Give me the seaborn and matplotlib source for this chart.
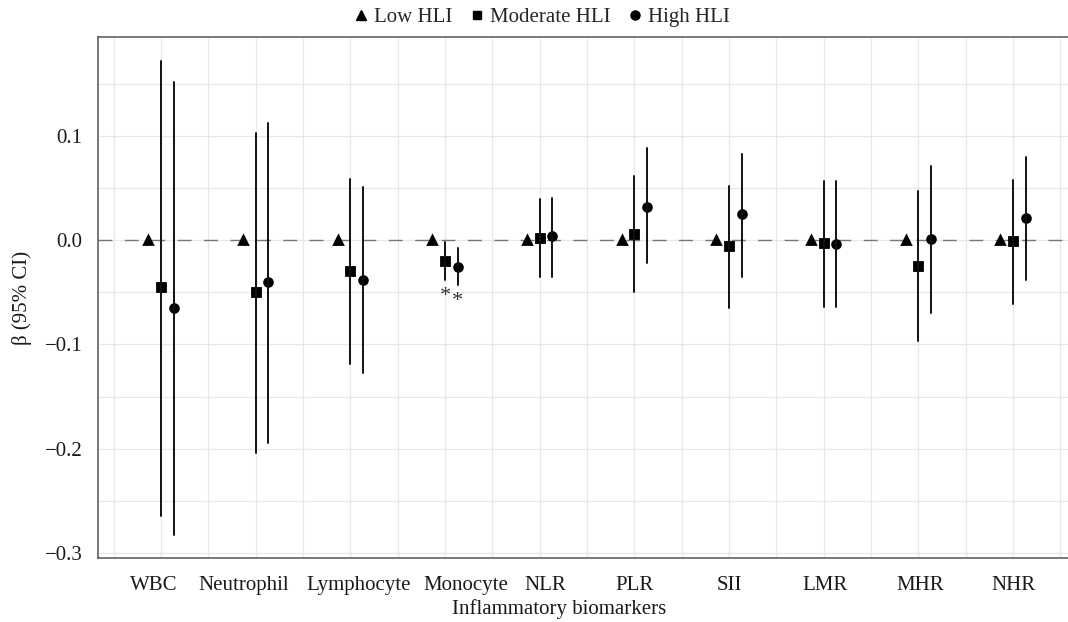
import numpy as np
import pandas as pd
import seaborn as sns
import matplotlib
matplotlib.use("Agg")
import matplotlib.pyplot as plt
from matplotlib.lines import Line2D
from matplotlib.transforms import ScaledTranslation

biomarkers = ["WBC", "Neutrophil", "Lymphocyte", "Monocyte", "NLR",
              "PLR", "SII", "LMR", "MHR", "NHR"]
groups = ["Low HLI", "Moderate HLI", "High HLI"]

# Low HLI is the reference group (beta = 0, no interval)
low_est = [0.0] * 10

mod_est = [-0.045, -0.050, -0.030, -0.020, 0.002, 0.006, -0.006, -0.003, -0.025, -0.001]
mod_lo = [-0.264, -0.204, -0.119, -0.038, -0.035, -0.050, -0.065, -0.064, -0.097, -0.061]
mod_hi = [0.172, 0.103, 0.059, -0.002, 0.039, 0.061, 0.052, 0.057, 0.047, 0.058]

high_est = [-0.065, -0.040, -0.038, -0.026, 0.004, 0.032, 0.025, -0.004, 0.001, 0.021]
high_lo = [-0.283, -0.194, -0.127, -0.043, -0.035, -0.022, -0.035, -0.064, -0.070, -0.038]
high_hi = [0.152, 0.112, 0.051, -0.008, 0.040, 0.088, 0.083, 0.057, 0.071, 0.080]

# significant estimates: (biomarker, group)
signif = [("Monocyte", "Moderate HLI"), ("Monocyte", "High HLI")]

rows = []
for i, b in enumerate(biomarkers):
    for v in (low_est[i], low_est[i], low_est[i]):
        rows.append((b, "Low HLI", v))
    for v in (mod_lo[i], mod_est[i], mod_hi[i]):
        rows.append((b, "Moderate HLI", v))
    for v in (high_lo[i], high_est[i], high_hi[i]):
        rows.append((b, "High HLI", v))
df = pd.DataFrame(rows, columns=["biomarker", "group", "beta"])

sns.set_style("white")
plt.rcParams["font.family"] = ["Liberation Serif", "DejaVu Serif"]

fig = plt.figure(figsize=(10.68, 6.22), dpi=100)
ax = fig.add_axes([98 / 1068, 63.7 / 622, (1076 - 98) / 1068, (558.3 - 36.7) / 622])

dodge = 0.265
sns.pointplot(data=df, x="biomarker", y="beta", hue="group",
              order=biomarkers, hue_order=groups,
              estimator="median", errorbar=lambda x: (x.min(), x.max()),
              dodge=dodge, markers=["^", "s", "o"], linestyle="none",
              palette=["black"] * 3, markersize=5.6,
              err_kws={"linewidth": 1.4, "color": "#111111"},
              legend=False, ax=ax, zorder=3)

ax.axhline(0, color="#777777", lw=1.0, dashes=(10, 9), zorder=1)

offsets = dict(zip(groups, np.linspace(-dodge / 2, dodge / 2, 3)))
for b, g in signif:
    i = biomarkers.index(b)
    lo = mod_lo[i] if g == "Moderate HLI" else high_lo[i]
    ax.text(i + offsets[g], lo - 0.007, "*", ha="center", va="top",
            fontsize=16, color="#333333")

ax.set_xlim(-0.666, 9.666)
ax.set_ylim(-0.305, 0.195)
ax.set_yticks([-0.3, -0.2, -0.1, 0.0, 0.1])
ax.set_yticklabels(["\u22120.3", "\u22120.2", "\u22120.1", "0.0", "0.1"])
ax.set_xticks(range(10))
ax.set_xticks(np.arange(-0.5, 10, 1), minor=True)
ax.set_yticks(np.arange(-0.25, 0.2, 0.1), minor=True)
ax.grid(True, which="both", color="#e8e8e8", lw=0.9, zorder=0)
ax.set_axisbelow(True)

for s in ["left", "bottom", "top"]:
    ax.spines[s].set_color("#555555")
    ax.spines[s].set_linewidth(1.1)
ax.spines["right"].set_visible(False)
ax.tick_params(axis="both", which="major", length=4, width=1, color="#333333",
               labelsize=15, labelcolor="#1a1a1a", pad=7)
ax.tick_params(axis="both", which="minor", length=0)
ax.tick_params(axis="x", pad=9)

# labels in the source are nudged apart so the long names do not collide
nudge_px = [-7, -12, 8, 21, 6, 0, 0, 1, 2, 0]
for lab, dx in zip(ax.get_xticklabels(), nudge_px):
    lab.set_transform(lab.get_transform() + ScaledTranslation(dx / 100, 0, fig.dpi_scale_trans))

ax.set_xlabel("Inflammatory biomarkers", fontsize=15, color="#1a1a1a")
ax.xaxis.set_label_coords((559.5 - 98) / (1076 - 98), -41 / 521.6)
ax.set_ylabel("\u03b2 (95% CI)", fontsize=15, color="#1a1a1a")
ax.yaxis.set_label_coords(-(98 - 22.5) / 978, 0.5)
ax.yaxis.label.set_va("center")

handles = [Line2D([], [], marker=m, color="black", ls="none", markersize=ms)
           for m, ms in zip(["^", "s", "o"], [6.5, 6, 6.5])]
fig.legend(handles, groups, loc="upper center", bbox_to_anchor=(0.506, 1.018),
           ncol=3, frameon=False, fontsize=15, handletextpad=0.1,
           columnspacing=0.7, handlelength=1.0)

fig.savefig("out.png", dpi=100)
